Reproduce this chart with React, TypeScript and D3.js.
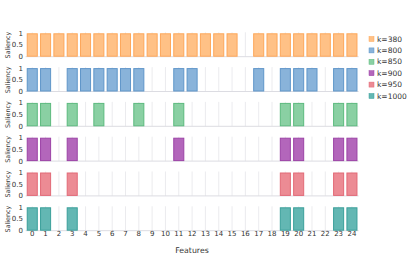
import React from "react";
import * as d3 from "d3";

const features = d3.range(25).map(String);
const seriesNames = ["k=380", "k=800", "k=850", "k=900", "k=950", "k=1000"];
const fills = ["#ffc186", "#89b3da", "#8ad0a3", "#b366bb", "#ec8b94", "#63b7b3"];
const strokes = ["#fda75a", "#5f96c9", "#5cba7e", "#9c43a6", "#e26a77", "#3a9f9a"];

const k380 = [1,1,1,1,1,1,1,1,1,1,1,1,1,1,1,1,0,1,1,1,1,1,1,1,1];
const k800 = [1,1,0,1,1,1,1,1,1,0,0,1,1,0,0,0,0,1,0,1,1,1,0,1,1];
const k850 = [1,1,0,1,0,1,0,0,1,0,0,1,0,0,0,0,0,0,0,1,1,0,0,1,1];
const k900 = [1,1,0,1,0,0,0,0,0,0,0,1,0,0,0,0,0,0,0,1,1,0,0,1,1];
const k950 = [1,1,0,1,0,0,0,0,0,0,0,0,0,0,0,0,0,0,0,1,1,0,0,1,1];
const k1000 = [1,1,0,1,0,0,0,0,0,0,0,0,0,0,0,0,0,0,0,1,1,0,0,1,1];
const seriesValues = [k380, k800, k850, k900, k950, k1000];
const yTicks = [0, 0.5, 1];

const W = 415;
const H = 256;
const font = "DejaVu Sans, sans-serif";

export default function App() {
  const x = d3.scaleBand<string>().domain(features).range([25.6, 358.6]).paddingInner(0.17).paddingOuter(0.085);
  const panelTop = 33.3;
  const panelPitch = 34.8;
  const panelH = 23.4;
  const xl = 25.6;
  const xr = 358.6;

  return (
    <div style={{ position: "absolute", left: 0, top: 0 }}>
      <svg width={W} height={H} style={{ display: "block", fontFamily: font }}>
        <rect width={W} height={H} fill="#fff" />
        {seriesValues.map((vals, si) => {
          const top = panelTop + si * panelPitch;
          const y = d3.scaleLinear().domain([0, 1]).range([top + panelH, top]);
          const cy = top + panelH / 2;
          return (
            <g key={si}>
              {features.map((f) => (
                <line key={f} x1={x(f)! + x.bandwidth() / 2} x2={x(f)! + x.bandwidth() / 2} y1={y(1) - 1} y2={y(0)} stroke="#e6e6ea" strokeWidth={0.8} />
              ))}
              <line x1={xl} x2={xr} y1={y(0)} y2={y(0)} stroke="#dcdce2" strokeWidth={1} />
              {vals.map((v, i) =>
                v > 0 ? (
                  <rect key={i} x={x(features[i])! + 0.5} y={y(v) + 0.5} width={x.bandwidth() - 1} height={y(0) - y(v) - 1} fill={fills[si]} stroke={strokes[si]} strokeWidth={1} />
                ) : null
              )}
              {yTicks.map((t) => (
                <text key={t} x={23} y={y(t)} dy="0.35em" textAnchor="end" fontSize={7} fill="#333">
                  {t}
                </text>
              ))}
              <text transform={`translate(7.5,${cy}) rotate(-90)`} textAnchor="middle" dy="0.35em" fontSize={6.4} fill="#333">
                Saliency
              </text>
            </g>
          );
        })}
        {features.map((f) => (
          <text key={f} x={x(f)! + x.bandwidth() / 2} y={234} dy="0.35em" textAnchor="middle" fontSize={7} fill="#333">
            {f}
          </text>
        ))}
        <text x={192} y={250} dy="0.35em" textAnchor="middle" fontSize={7.8} fill="#333">
          Features
        </text>
        {seriesNames.map((n, i) => (
          <g key={n} transform={`translate(369,${39 + i * 11.4})`}>
            <rect x={0} y={-2.5} width={5} height={5} fill={fills[i]} stroke={strokes[i]} strokeWidth={0.5} />
            <text x={8} y={0} dy="0.35em" fontSize={7.5} fill="#333">
              {n}
            </text>
          </g>
        ))}
      </svg>
    </div>
  );
}
